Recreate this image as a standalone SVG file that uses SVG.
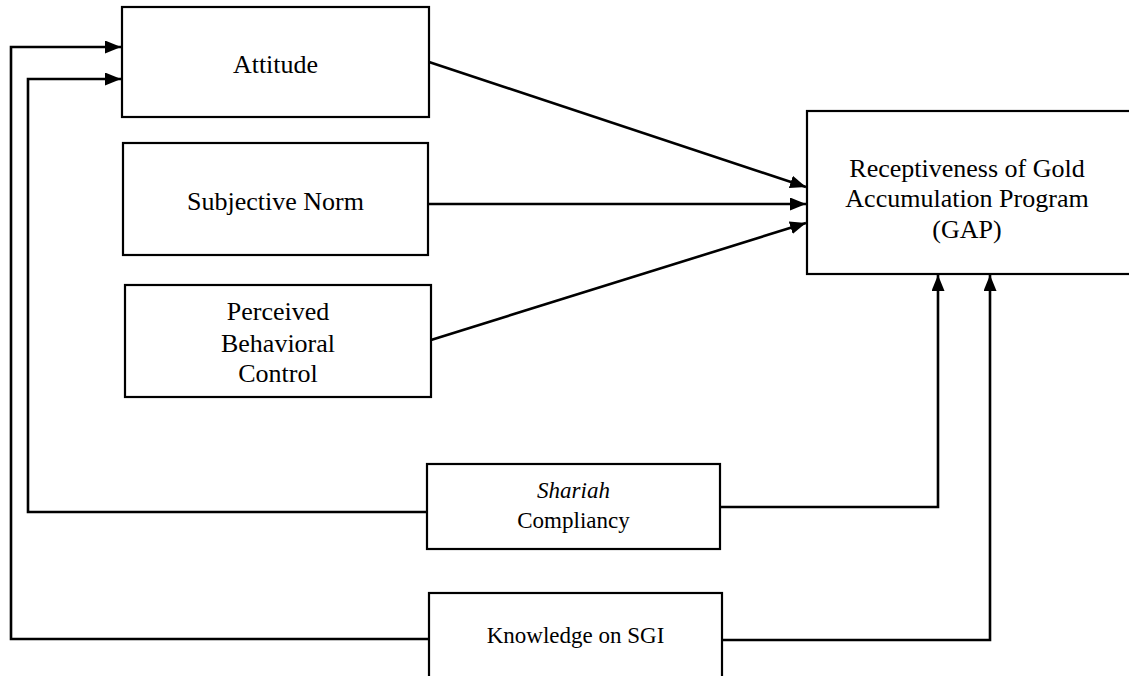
<svg xmlns="http://www.w3.org/2000/svg" width="1129" height="676" viewBox="0 0 1129 676">
<style>
.box{fill:#fff;stroke:#000;stroke-width:2.2}
.t{font-family:'Liberation Serif','Times New Roman',Times,serif;font-size:26px;fill:#000;text-anchor:middle}
.s{font-size:23px}
.c{fill:none;stroke:#000;stroke-width:2.6}
</style>
<defs>
<marker id="ah" markerUnits="userSpaceOnUse" markerWidth="16" markerHeight="13" refX="16" refY="6.5" orient="auto">
<path d="M0,0 L16,6.5 L0,13 z" fill="#000"/>
</marker>
</defs>
<rect width="1129" height="676" fill="#fff"/>
<g id="connectors">
<line class="c" x1="429" y1="62" x2="806" y2="187" marker-end="url(#ah)"/>
<line class="c" x1="429" y1="204" x2="806" y2="204" marker-end="url(#ah)"/>
<line class="c" x1="431" y1="340" x2="806" y2="223" marker-end="url(#ah)"/>
<polyline class="c" points="720,507 938,507 938,275" marker-end="url(#ah)"/>
<polyline class="c" points="722,640 990,640 990,275" marker-end="url(#ah)"/>
<polyline class="c" points="427,512 28,512 28,79 121,79" marker-end="url(#ah)"/>
<polyline class="c" points="429,639 11,639 11,47 121,47" marker-end="url(#ah)"/>
</g>
<g id="attitude">
<rect class="box" x="122" y="7" width="307" height="110"/>
<text class="t" x="275.5" y="73" font-family="'Liberation Serif', serif">Attitude</text>
</g>
<g id="subjective-norm">
<rect class="box" x="123" y="143" width="305" height="112"/>
<text class="t" x="275.5" y="210">Subjective Norm</text>
</g>
<g id="pbc">
<rect class="box" x="125" y="285" width="306" height="112"/>
<text class="t" x="278" y="320">Perceived</text>
<text class="t" x="278" y="352">Behavioral</text>
<text class="t" x="278" y="382">Control</text>
</g>
<g id="gap">
<rect class="box" x="807" y="111" width="330" height="163"/>
<text class="t" x="967" y="177">Receptiveness of Gold</text>
<text class="t" x="967" y="207">Accumulation Program</text>
<text class="t" x="967" y="238">(GAP)</text>
</g>
<g id="shariah">
<rect class="box" x="427" y="464" width="293" height="85"/>
<text class="t s" x="573.5" y="498" font-style="italic">Shariah</text>
<text class="t s" x="573.5" y="528">Compliancy</text>
</g>
<g id="knowledge">
<rect class="box" x="429" y="593" width="293" height="100"/>
<text class="t s" x="575.5" y="643">Knowledge on SGI</text>
</g>
</svg>
